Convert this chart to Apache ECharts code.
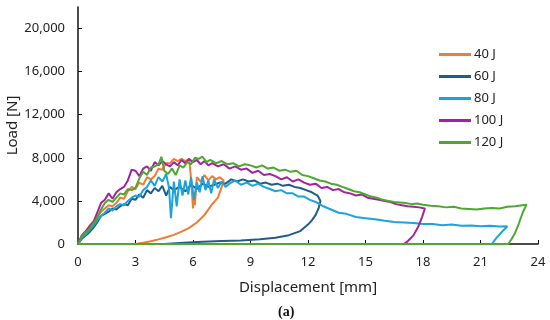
<!DOCTYPE html>
<html><head><meta charset="utf-8">
<script src="https://cdn.jsdelivr.net/npm/echarts@6/dist/echarts.min.js"></script>
<style>html,body{margin:0;padding:0;background:#fff}#c{width:550px;height:320px}</style>
</head><body><div id="c"></div>
<script>
const seriesNames = ['40 J', '60 J', '80 J', '100 J', '120 J'];
const xTicks = [0, 3, 6, 9, 12, 15, 18, 21, 24];
const yTicks = [0, 4000, 8000, 12000, 16000, 20000];

const s40 = [[0,0],[0.2,700],[0.4,1100],[0.6,1700],[0.8,2100],[1.0,2500],[1.2,3000],[1.4,3300],[1.6,3600],[1.8,3500],[2.0,3800],[2.2,4300],[2.4,4200],[2.6,4900],[2.8,5300],[3.0,5100],[3.2,5700],[3.4,5500],[3.6,6200],[3.8,6000],[4.0,6300],[4.2,7000],[4.4,6900],[4.6,7500],[4.8,7500],[5.0,7900],[5.2,7700],[5.4,7900],[5.6,7700],[5.8,7900],[5.9,6000],[6.0,3300],[6.05,4800],[6.1,3600],[6.2,6200],[6.4,5800],[6.6,6400],[6.8,5900],[7.0,6300],[7.2,6000],[7.4,6200],[7.6,5900],
  [7.5,5300],[7.3,4300],[7.0,3700],[6.6,2700],[6.2,2000],[5.8,1500],[5.4,1150],[5.0,850],[4.6,620],[4.2,430],[3.8,250],[3.4,110],[3.0,0],[0,0]];

const s60 = [[0,0],[0.2,500],[0.4,800],[0.6,1100],[0.8,1500],[1.0,2000],[1.2,2600],[1.4,2800],[1.6,3000],[1.8,3300],[2.0,3200],[2.2,3500],[2.4,3700],[2.6,3600],[2.8,4200],[3.0,4100],[3.2,4600],[3.4,4300],[3.6,5000],[3.8,4700],[4.0,5200],[4.2,4900],[4.4,5400],[4.6,4500],[4.8,5300],[5.0,5000],[5.3,5300],[5.6,4900],[5.9,5500],[6.2,5100],[6.5,5600],[6.8,5300],[7.1,5500],[7.4,5700],[7.7,5600],[8.0,6000],[8.3,5800],[8.6,6000],[8.9,5800],[9.2,5900],[9.5,5600],[9.8,5700],[10.1,5500],[10.4,5600],[10.7,5400],[11.0,5500],[11.3,5300],[11.6,5200],[11.9,5000],[12.2,4800],[12.5,4500],[12.65,4000],
  [12.55,3300],[12.4,2700],[12.2,2200],[12.0,1800],[11.6,1200],[11.0,820],[10.3,580],[9.5,430],[8.5,330],[7.5,270],[6.5,210],[5.5,120],[4.5,0],[0,0]];

const s80 = [[0,0],[0.2,600],[0.4,900],[0.6,1300],[0.8,1700],[1.0,2200],[1.2,2600],[1.4,2900],[1.6,3300],[1.8,3100],[2.0,3500],[2.2,3700],[2.4,3600],[2.6,4000],[2.8,4300],[3.0,4500],[3.2,4400],[3.4,5000],[3.6,5300],[3.8,5900],[4.0,5400],[4.2,6200],[4.4,5800],[4.6,6500],[4.75,5200],[4.85,2400],[5.0,5800],[5.15,3500],[5.3,6000],[5.45,4500],[5.6,5900],[5.75,4600],[5.9,6200],[6.05,4100],[6.2,5700],[6.35,4800],[6.5,6300],[6.65,5000],[6.8,5900],[6.95,4700],[7.1,6000],[7.3,5200],[7.5,5800],[7.7,5300],[7.9,5600],[8.2,5900],[8.5,5500],[8.8,5700],[9.1,5400],[9.4,5600],[9.7,5300],[10.0,5100],[10.3,4900],[10.6,5000],[10.9,4700],[11.2,4700],[11.5,4400],[11.8,4400],[12.1,4100],[12.4,3900],[12.8,3500],[13.2,3200],[13.6,2900],[14.0,2800],[14.5,2500],[15.0,2400],[15.5,2300],[16.0,2150],[16.5,2050],[17.0,2000],[17.5,1950],[18.0,1850],[18.5,1850],[19.0,1750],[19.5,1800],[20.0,1700],[20.5,1720],[21.0,1650],[21.5,1700],[22.0,1620],[22.4,1650],
  [22.1,1100],[21.8,500],[21.6,0],[0,0]];

const s100 = [[0,0],[0.2,800],[0.4,1200],[0.6,1600],[0.8,2000],[1.0,2900],[1.2,3800],[1.4,4100],[1.6,4700],[1.8,4200],[2.0,4800],[2.2,5100],[2.4,5300],[2.6,5900],[2.8,6900],[3.0,6800],[3.2,6300],[3.4,7000],[3.6,7200],[3.8,6800],[4.0,7600],[4.2,7300],[4.4,7700],[4.6,7400],[4.8,7200],[5.0,7600],[5.2,7300],[5.4,7800],[5.6,7500],[5.8,7900],[6.0,7600],[6.2,7800],[6.4,7400],[6.6,7700],[6.8,7300],[7.0,7500],[7.3,7200],[7.6,7400],[7.9,7000],[8.2,7200],[8.5,6900],[8.8,7000],[9.1,6600],[9.4,6800],[9.7,6400],[10.0,6500],[10.3,6300],[10.6,6000],[10.9,6200],[11.2,5800],[11.5,6000],[11.8,5700],[12.1,5500],[12.4,5600],[12.7,5200],[13.0,5300],[13.3,5000],[13.6,5100],[13.9,4800],[14.2,4700],[14.5,4500],[14.8,4600],[15.1,4300],[15.4,4200],[15.7,4100],[16.0,4000],[16.3,3900],[16.6,3700],[16.9,3600],[17.2,3500],[17.5,3450],[17.8,3400],[18.1,3300],
  [17.95,2500],[17.75,1600],[17.5,800],[17.2,250],[17.0,0],[0,0]];

const s120 = [[0,0],[0.2,700],[0.4,1100],[0.6,1400],[0.8,1900],[1.0,2400],[1.2,3200],[1.4,3800],[1.6,4100],[1.8,3900],[2.0,4300],[2.2,4700],[2.4,4600],[2.6,5100],[2.8,5000],[3.0,5200],[3.2,6100],[3.4,6700],[3.6,6400],[3.8,7100],[4.0,7200],[4.2,7400],[4.35,8100],[4.5,6800],[4.7,6500],[4.9,7000],[5.1,6400],[5.3,7300],[5.5,7100],[5.7,7600],[5.9,7400],[6.1,8000],[6.3,7900],[6.5,8100],[6.7,7600],[6.9,7800],[7.2,7500],[7.5,7700],[7.8,7400],[8.1,7500],[8.4,7200],[8.7,7400],[9.0,7300],[9.3,7100],[9.6,7300],[9.9,7000],[10.2,7100],[10.5,6800],[10.8,6900],[11.1,6700],[11.4,6800],[11.7,6400],[12.0,6300],[12.3,6100],[12.6,5900],[12.9,5800],[13.2,5600],[13.5,5500],[13.8,5300],[14.1,5100],[14.4,4900],[14.7,4800],[15.0,4600],[15.3,4400],[15.6,4300],[15.9,4100],[16.2,4000],[16.5,3900],[16.8,3850],[17.1,3800],[17.4,3700],[17.7,3750],[18.0,3650],[18.4,3550],[18.8,3500],[19.2,3400],[19.6,3450],[20.0,3300],[20.4,3250],[20.8,3200],[21.2,3300],[21.6,3350],[22.0,3300],[22.4,3450],[22.8,3500],[23.2,3600],[23.4,3650],
  [23.2,2900],[23.0,1900],[22.8,1000],[22.6,400],[22.45,0],[0,0]];

const seriesData = [s40, s60, s80, s100, s120];
const colors = ['#ED7D31', '#1D5E89', '#1CA3DC', '#A2229F', '#4EA72E'];

const chart = echarts.init(document.getElementById('c'), null, {renderer: 'canvas'});
const font = '"Noto Sans", sans-serif';
chart.setOption({
  animation: false,
  color: colors,
  grid: {left: 78, right: 12, top: 7, bottom: 76, containLabel: false, outerBoundsMode: 'none'},
  legend: {
    orient: 'vertical', left: 434, top: 43, itemWidth: 32, itemHeight: 3, itemGap: 9,
    icon: 'rect',
    textStyle: {fontFamily: font, fontSize: 13, color: '#222', padding: [0, 0, 0, -2]},
    data: seriesNames
  },
  xAxis: {
    type: 'value', min: xTicks[0], max: xTicks[xTicks.length - 1], interval: 3,
    name: 'Displacement [mm]', nameLocation: 'middle', nameGap: 36, nameMoveOverlap: false,
    nameTextStyle: {fontFamily: font, fontSize: 15, color: '#222'},
    axisLine: {show: true, lineStyle: {color: '#111', width: 1.5}},
    axisTick: {show: true, inside: true, length: 4, lineStyle: {color: '#111'}},
    axisLabel: {fontFamily: font, fontSize: 13, color: '#222', margin: 12},
    splitLine: {show: false}
  },
  yAxis: {
    type: 'value', min: 0, max: 22000, interval: 4000,
    name: 'Load [N]', nameLocation: 'middle', nameGap: 58, nameMoveOverlap: false,
    nameTextStyle: {fontFamily: font, fontSize: 15, color: '#222'},
    axisLine: {show: true, lineStyle: {color: '#111', width: 1.5}},
    axisTick: {show: true, inside: true, length: 4, lineStyle: {color: '#111'}},
    axisLabel: {fontFamily: font, fontSize: 13, color: '#222', margin: 13, showMaxLabel: false,
      formatter: v => yTicks.indexOf(v) >= 0 ? v.toLocaleString('en-US') : ''},
    splitLine: {show: false}
  },
  graphic: [{
    type: 'text', left: 278, top: 305,
    style: {text: '(a)', font: 'bold 14px "Liberation Serif", serif', fill: '#111'}
  }],
  series: seriesNames.map((n, i) => ({
    name: n, type: 'line', data: seriesData[i], showSymbol: false, symbol: 'none',
    lineStyle: {width: 2, color: colors[i]}, itemStyle: {color: colors[i]}
  }))
});
</script></body></html>
